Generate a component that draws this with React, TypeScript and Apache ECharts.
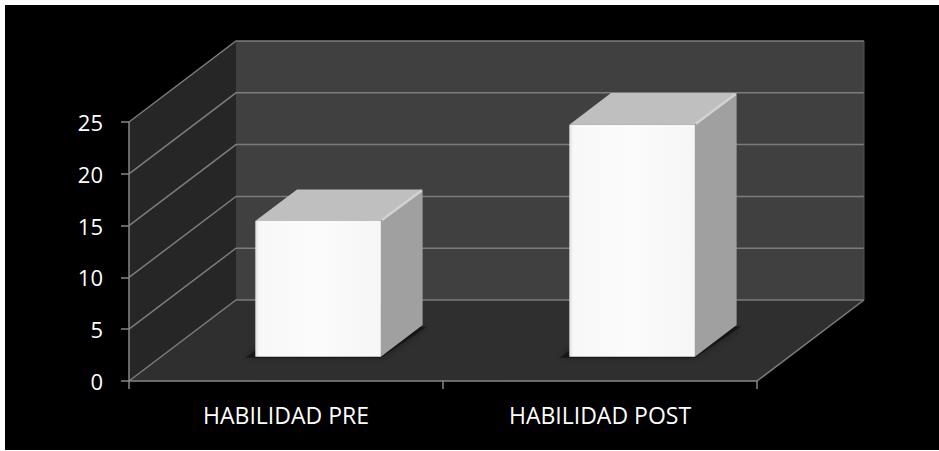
import React, { useEffect, useRef } from "react";
import * as echarts from "echarts";

// Chart data
const categories = ["HABILIDAD PRE", "HABILIDAD POST"];
const values = [13.1, 22.4];
const yTicks = [0, 5, 10, 15, 20, 25];

// Oblique depth of the 3D box (pixels) and bar placement inside it
const DX = 107;
const DY = -81;
const BAR_FRONT = 0.3;
const BAR_BACK = 0.69;
const BAR_WIDTH_RATIO = 0.4;

const AXIS_GRAY = "#868686";
const GRID_GRAY = "#7c7c7c";
const FONT = "'Open Sans', 'Noto Sans', sans-serif";

export default function App() {
  const ref = useRef<HTMLDivElement>(null);

  useEffect(() => {
    if (!ref.current) return;
    const chart = echarts.init(ref.current, null, { renderer: "svg" });

    const wallsRender = (params: any, api: any) => {
      const cs = params.coordSys;
      const x0 = cs.x;
      const x1 = cs.x + cs.width;
      const y0 = api.coord([0, 0])[1];
      const yTop = api.coord([0, yTicks[yTicks.length - 1]])[1];
      const children: any[] = [];
      // left wall
      children.push({
        type: "polygon",
        shape: { points: [[x0, yTop], [x0 + DX, yTop + DY], [x0 + DX, y0 + DY], [x0, y0]] },
        style: { fill: "#262626" },
      });
      // back wall
      children.push({
        type: "polygon",
        shape: { points: [[x0 + DX, yTop + DY], [x1 + DX, yTop + DY], [x1 + DX, y0 + DY], [x0 + DX, y0 + DY]] },
        style: { fill: "#404040" },
      });
      // floor
      children.push({
        type: "polygon",
        shape: { points: [[x0, y0], [x1, y0], [x1 + DX, y0 + DY], [x0 + DX, y0 + DY]] },
        style: { fill: "#2f2f2f" },
      });
      // gridlines along left wall and back wall
      yTicks.forEach((v) => {
        const y = api.coord([0, v])[1];
        children.push({
          type: "polyline",
          shape: { points: [[x0, y], [x0 + DX, y + DY], [x1 + DX, y + DY]] },
          style: { stroke: GRID_GRAY, lineWidth: 1.5, fill: null },
        });
      });
      // floor right edge
      children.push({
        type: "line",
        shape: { x1: x1, y1: y0, x2: x1 + DX, y2: y0 + DY },
        style: { stroke: GRID_GRAY, lineWidth: 1.5 },
      });
      children.push({
        type: "line",
        shape: { x1: x1 + DX, y1: y0 + DY, x2: x1 + DX, y2: yTop + DY },
        style: { stroke: "#555555", lineWidth: 1 },
      });
      return { type: "group", children };
    };

    const barsRender = (params: any, api: any) => {
      const idx = api.value(0);
      const val = api.value(1);
      const base = api.coord([idx, 0]);
      const top = api.coord([idx, val]);
      const band = api.size([1, 0])[0];
      const w = band * BAR_WIDTH_RATIO;
      const fx = base[0] - w / 2 + BAR_FRONT * DX;
      const fyB = base[1] + BAR_FRONT * DY;
      const fyT = top[1] + BAR_FRONT * DY;
      const ddx = (BAR_BACK - BAR_FRONT) * DX;
      const ddy = (BAR_BACK - BAR_FRONT) * DY;
      const fl = fx;
      const fr = fx + w;
      return {
        type: "group",
        children: [
          {
            type: "polygon",
            shape: {
              points: [[fl - 10, fyB + 1], [fr, fyB + 1], [fr + ddx + 4, fyB + ddy + 2], [fl + ddx - 6, fyB + ddy]],
            },
            style: { fill: "rgba(0,0,0,0.45)", shadowBlur: 8, shadowColor: "rgba(0,0,0,0.8)" },
          },
          {
            type: "polygon",
            shape: { points: [[fr, fyT], [fr + ddx, fyT + ddy], [fr + ddx, fyB + ddy], [fr, fyB]] },
            style: { fill: "#a0a0a0" },
          },
          {
            type: "polygon",
            shape: { points: [[fl, fyT], [fr, fyT], [fr + ddx, fyT + ddy], [fl + ddx, fyT + ddy]] },
            style: { fill: "#bfbfbf" },
          },
          {
            type: "line",
            shape: { x1: fr + 1, y1: fyT - 1, x2: fr + ddx - 1, y2: fyT + ddy + 1 },
            style: { stroke: "#d2d2d2", lineWidth: 2.5 },
          },
          {
            type: "rect",
            shape: { x: fl, y: fyT, width: w, height: fyB - fyT },
            style: {
              fill: new echarts.graphic.LinearGradient(0, 0, 1, 0, [
                { offset: 0, color: "#dedede" },
                { offset: 0.03, color: "#f8f8f8" },
                { offset: 0.5, color: "#fbfbfb" },
                { offset: 1, color: "#f6f6f6" },
              ]),
            },
          },
        ],
      };
    };

    chart.setOption({
      animation: false,
      backgroundColor: "#ffffff",
      graphic: [
        {
          type: "rect",
          z: -10,
          silent: true,
          shape: { x: 5, y: 5, width: 934, height: 445 },
          style: { fill: "#000000" },
        },
      ],
      grid: { left: 129, right: 182, top: 122, bottom: 70, containLabel: false },
      xAxis: {
        type: "category",
        data: categories,
        z: 10,
        axisLine: { show: true, lineStyle: { color: AXIS_GRAY, width: 1.5 } },
        axisTick: { show: true, length: 8, lineStyle: { color: AXIS_GRAY, width: 1.5 } },
        axisLabel: { color: "#ffffff", fontSize: 23, fontFamily: FONT, margin: 22 },
        splitLine: { show: false },
      },
      yAxis: {
        type: "value",
        min: 0,
        max: 25,
        interval: 5,
        z: 10,
        axisLine: { show: true, lineStyle: { color: AXIS_GRAY, width: 1.5 } },
        axisTick: { show: true, length: 8, lineStyle: { color: AXIS_GRAY, width: 1.5 } },
        axisLabel: { color: "#ffffff", fontSize: 22, fontFamily: FONT, margin: 26 },
        splitLine: { show: false },
      },
      series: [
        {
          type: "custom",
          name: "walls",
          z: 1,
          silent: true,
          renderItem: wallsRender,
          data: [[0, 0]],
          encode: { x: 0, y: 1 },
        },
        {
          type: "custom",
          name: "bars",
          z: 2,
          renderItem: barsRender,
          data: categories.map((_, i) => [i, values[i]]),
          encode: { x: 0, y: 1 },
        },
      ],
    });

    return () => chart.dispose();
  }, []);

  return (
    <div
      ref={ref}
      style={{ position: "fixed", left: 0, top: 0, width: 939, height: 451 }}
    />
  );
}
